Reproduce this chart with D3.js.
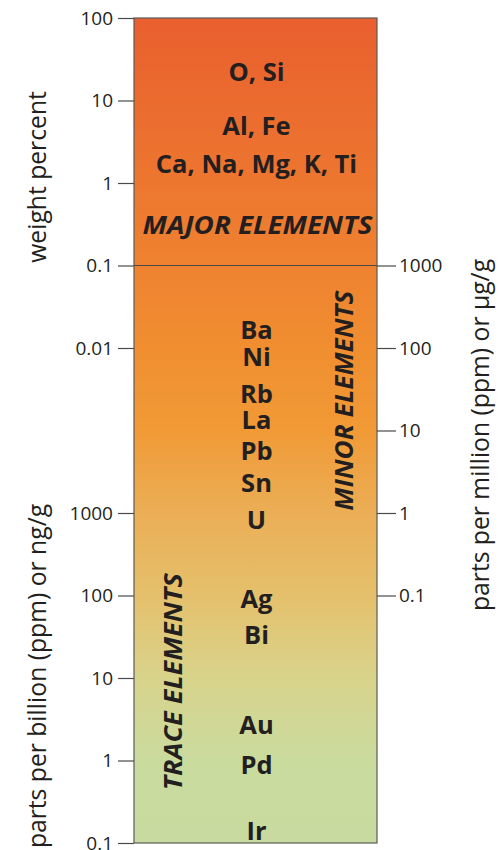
<!DOCTYPE html>
<html>
<head>
<meta charset="utf-8">
<script src="https://cdn.jsdelivr.net/npm/d3@7"></script>
<style>
  html, body { margin: 0; padding: 0; background: #ffffff; }
  svg { display: block; }
  text { font-family: "Open Sans", "Noto Sans", sans-serif; fill: #231f20; }
</style>
</head>
<body>
<svg id="chart" width="502" height="850"></svg>
<script>
// ---- data (all abundances expressed in ppm) ----
const weightPercentTicks = [100, 10, 1, 0.1, 0.01];
const ppbTicks = [1000, 100, 10, 1, 0.1];
const ppmTicks = [1000, 100, 10, 1, 0.1];

const elementNames = ["O, Si", "Al, Fe", "Ca, Na, Mg, K, Ti",
  "Ba", "Ni", "Rb", "La", "Pb", "Sn", "U",
  "Ag", "Bi", "Au", "Pd", "Ir"];
const elementPpm = [220000, 50000, 17000,
  165, 79, 28, 13.4, 5.6, 2.35, 0.82,
  0.092, 0.033, 0.0027, 0.00088, 0.00014];

const groupNames = ["MAJOR ELEMENTS", "MINOR ELEMENTS", "TRACE ELEMENTS"];
const groupPpm = [3200, 23, 0.009];
const majorMinorBoundaryPpm = [1000];

const gradientColors = ["#e95f2e", "#ef8230", "#f08e30", "#f19a36", "#ebae56", "#e5c06c", "#d8d38b", "#cadb9e", "#c8da9f"];
const gradientPpm = [1e6, 1000, 100, 10, 1, 0.1, 0.01, 0.001, 1e-4];

// ---- layout ----
const svg = d3.select("#chart");
const x0 = 134, x1 = 377;
const y = d3.scaleLog().domain([1e6, 1e-4]).range([18, 843]);

// gradient
const defs = svg.append("defs");
const grad = defs.append("linearGradient")
  .attr("id", "bg").attr("x1", 0).attr("x2", 0).attr("y1", 0).attr("y2", 1);
const yTop = y(1e6), yBot = y(1e-4);
grad.selectAll("stop").data(gradientPpm).join("stop")
  .attr("offset", d => (y(d) - yTop) / (yBot - yTop))
  .attr("stop-color", (d, i) => gradientColors[i]);

svg.append("rect")
  .attr("x", x0).attr("y", yTop)
  .attr("width", x1 - x0).attr("height", yBot - yTop)
  .attr("fill", "url(#bg)")
  .attr("stroke", "#5a5a5a").attr("stroke-width", 1.2);

// boundary line between major & minor
svg.selectAll("line.boundary").data(majorMinorBoundaryPpm).join("line")
  .attr("class", "boundary")
  .attr("x1", x0).attr("x2", x1)
  .attr("y1", d => y(d)).attr("y2", d => y(d))
  .attr("stroke", "#4a4a4a").attr("stroke-width", 1.2);

function styleAxis(g) {
  g.select(".domain").remove();
  g.selectAll(".tick line").attr("stroke", "#4a4a4a").attr("stroke-width", 1.2);
  g.selectAll(".tick text")
    .style("font-family", '"Open Sans", sans-serif')
    .style("font-size", "19px").attr("fill", "#231f20");
}

// left axis: weight percent (ppm = wt% * 1e4)
const leftWt = d3.axisLeft(y)
  .tickValues(weightPercentTicks.map(d => d * 1e4))
  .tickFormat(d => String(+(d / 1e4).toPrecision(6)))
  .tickSize(16).tickPadding(5);
svg.append("g").attr("transform", `translate(${x0},0)`).call(leftWt).call(styleAxis);

// left axis: ppb (ppm = ppb / 1000)
const leftPpb = d3.axisLeft(y)
  .tickValues(ppbTicks.map(d => d / 1000))
  .tickFormat(d => String(+(d * 1000).toPrecision(6)))
  .tickSize(16).tickPadding(5);
svg.append("g").attr("transform", `translate(${x0},0)`).call(leftPpb).call(styleAxis);

// right axis: ppm
const rightPpm = d3.axisRight(y)
  .tickValues(ppmTicks)
  .tickFormat(d => String(d))
  .tickSize(19).tickPadding(3);
svg.append("g").attr("transform", `translate(${x1},0)`).call(rightPpm).call(styleAxis);

// axis titles
const titles = [
  { text: "weight percent", x: 36, y: 177 },
  { text: "parts per billion (ppm) or ng/g", x: 36, y: 676 },
  { text: "parts per million (ppm) or µg/g", x: 479, y: 435 }
];
svg.selectAll("text.title").data(titles).join("text")
  .attr("class", "title")
  .attr("transform", d => `translate(${d.x},${d.y}) rotate(-90)`)
  .attr("text-anchor", "middle")
  .attr("dominant-baseline", "central")
  .style("font-size", "24.7px")
  .text(d => d.text);

// element labels
const elFont = 25.5;
svg.selectAll("text.el").data(elementNames).join("text")
  .attr("class", "el")
  .attr("x", (x0 + x1) / 2 + 1)
  .attr("y", (d, i) => y(elementPpm[i]) + elFont * 0.36)
  .attr("text-anchor", "middle")
  .style("font-size", elFont + "px")
  .style("font-weight", "700")
  .text(d => d);

// group labels
const groupX = [(x0 + x1) / 2 + 2, 343, 172];
const groupRot = [0, -90, -90];
const groupLen = [230, 220, 217];
svg.selectAll("text.grp").data(groupNames).join("text")
  .attr("class", "grp")
  .attr("transform", (d, i) => `translate(${groupX[i]},${y(groupPpm[i])}) rotate(${groupRot[i]})`)
  .attr("text-anchor", "middle")
  .attr("dominant-baseline", "central")
  .attr("textLength", (d, i) => groupLen[i])
  .attr("lengthAdjust", "spacingAndGlyphs")
  .style("font-size", "25px")
  .style("font-weight", "700")
  .style("font-style", "italic")
  .text(d => d);
</script>
</body>
</html>
